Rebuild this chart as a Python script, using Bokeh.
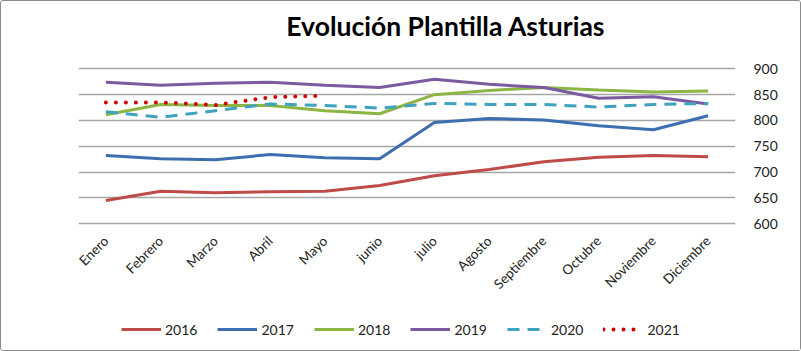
import math
from bokeh.plotting import figure
from bokeh.layouts import column
from bokeh.models import FactorRange, Range1d, FixedTicker, Legend, LegendItem, Label
from bokeh.embed import file_html
from bokeh.resources import INLINE

months = ["Enero", "Febrero", "Marzo", "Abril", "Mayo", "junio", "julio",
          "Agosto", "Septiembre", "Octubre", "Noviembre", "Diciembre"]
y2016 = [645, 663, 660, 662, 663, 674, 693, 705, 720, 729, 732, 730]
y2017 = [732, 726, 724, 734, 728, 726, 796, 804, 801, 790, 782, 809]
y2018 = [811, 831, 829, 829, 819, 813, 850, 858, 864, 859, 855, 857]
y2019 = [874, 868, 872, 874, 868, 864, 880, 870, 864, 843, 846, 832]
y2020 = [817, 806, 819, 832, 829, 824, 833, 831, 831, 826, 831, 833]
y2021 = [835, 835, 830, 845, 848]
years = ["2016", "2017", "2018", "2019", "2020", "2021"]
y_ticks = [600, 650, 700, 750, 800, 850, 900]
title_text = "Evolución Plantilla Asturias"

FONT = "Lato"
styles = [
    dict(line_color="#BE4B48", line_width=3),
    dict(line_color="#3C6EB0", line_width=3),
    dict(line_color="#8DB543", line_width=3),
    dict(line_color="#7A5BA0", line_width=3),
    dict(line_color="#3FA3C0", line_width=3, line_dash="12 8"),
    dict(line_color="#D00000", line_width=4, line_dash="0 10", line_cap="round"),
]
series = [y2016, y2017, y2018, y2019, y2020, y2021]

# main chart: frame runs from the top of the canvas to just below the 600 gridline
p = figure(frame_width=657, frame_height=224, x_range=FactorRange(*months),
           y_range=Range1d(596.7, 1030.3),
           output_backend="svg", toolbar_location=None, y_axis_location="right",
           min_border_left=77, min_border_right=65, min_border_top=0, min_border_bottom=76)
p.outline_line_color = None
p.background_fill_color = "white"
p.border_fill_color = "white"

p.xgrid.grid_line_color = None
p.ygrid.ticker = FixedTicker(ticks=y_ticks)
p.ygrid.grid_line_color = "#a6a6a6"
p.ygrid.grid_line_width = 1.5

ya = p.yaxis[0]
ya.ticker = FixedTicker(ticks=y_ticks)
ya.axis_line_color = None
ya.major_tick_line_color = None
ya.minor_tick_line_color = None
ya.major_label_text_font = FONT
ya.major_label_text_font_size = "14px"
ya.major_label_text_color = "#222222"
ya.major_label_standoff = 12

xa = p.xaxis[0]
xa.axis_line_color = None
xa.major_tick_line_color = None
xa.minor_tick_line_color = None
xa.major_label_orientation = math.pi / 4
xa.major_label_text_font = FONT
xa.major_label_text_font_size = "13.5px"
xa.major_label_text_color = "#222222"
xa.major_label_standoff = 7

for vals, st in zip(series, styles):
    p.line(months[:len(vals)], vals, **st)

p.add_layout(Label(x=6.71, y=982, text=title_text, text_align="center",
                   text_baseline="alphabetic", text_font=FONT, text_font_size="26.5px",
                   text_font_style="bold", text_color="#000000"))

# legend strip (its series lie outside its y range, so only the legend shows)
lg = figure(width=799, height=49, x_range=FactorRange(*months), y_range=Range1d(0, 1),
            output_backend="svg", toolbar_location=None, x_axis_type=None, y_axis_type=None,
            min_border=0)
lg.outline_line_color = None
lg.xgrid.visible = False
lg.ygrid.visible = False
items = []
for yr, vals, st in zip(years, series, styles):
    r = lg.line(months[:len(vals)], vals, **st)
    items.append(LegendItem(label=yr, renderers=[r]))
legend = Legend(items=items, orientation="horizontal", glyph_width=40, glyph_height=20,
                spacing=20, label_text_font=FONT, label_text_font_size="14px",
                label_standoff=4, label_text_color="#222222", border_line_color=None,
                background_fill_alpha=0, location=(43, 11), margin=0, padding=0)
lg.add_layout(legend)

layout = column(p, lg, spacing=0)
layout.styles = {"border": "1px solid #8c8c8c", "border-radius": "3px", "background": "white"}

open("out.html", "w").write(file_html(layout, INLINE))
